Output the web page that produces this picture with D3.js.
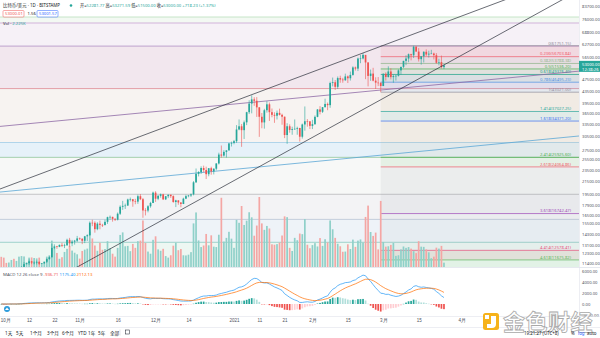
<!DOCTYPE html>
<html><head><meta charset="utf-8">
<script src="https://cdn.jsdelivr.net/npm/d3@7"></script>
<style>
body{margin:0;background:#fff}
svg{display:block;font-family:"Noto Sans","Noto Sans CJK SC",sans-serif}
.ax path{display:none}
.ax line{display:none}
</style></head>
<body><svg id="c" width="600" height="338"></svg>
<script>
// ---------------- DATA ----------------
const startDay = new Date(2020, 9, 1);   // first daily candle: 2020-10-01
const firstOpen = 10780;
const closes = [
10620,10570,10550,10670,10790,10600,10670,10920,11060,11300,
11380,11550,11430,11430,11500,11330,11370,11510,11750,11920,
12820,12970,12930,13120,13040,13070,13650,13280,13460,13560,
13800,
13760,13550,14030,14150,15590,15580,14830,15480,15330,15300,
15700,16280,16320,16070,15960,16720,17650,17780,17820,18680,
18710,18420,18370,19160,18720,17150,17140,17720,18180,19700,
18790,19220,19440,18700,19160,19380,19170,18320,18550,18250,
18040,18800,19170,19270,19440,21350,22800,23130,23860,23480,
22740,23820,23240,23730,24710,26490,26280,27040,27360,28880,
28990,
29390,32190,33000,32020,34030,36820,39370,40670,40240,38240,
35540,34010,37390,39150,36830,36070,35820,36630,36070,35550,
30830,33010,32080,32290,32370,32570,30430,33470,34320,34300,
33110,
33540,35510,37620,36940,38290,39260,38900,46200,46480,44850,
48010,47450,47200,48630,47940,49200,52150,51680,55890,55920,
57490,54210,48820,49710,47060,46340,46190,45140,
49630,48420,50540,48370,48760,48880,50970,52380,54880,55880,
57800,57330,61240,59000,55620,56880,58900,57650,58030,58100,
57350,54080,54350,52281.77,53000
];
const highs = [
10950,10670,10600,10690,10800,10800,10690,10950,11110,11480,
11420,11720,11560,11550,11620,11540,11400,11520,11820,12020,
13220,13180,13020,13160,13330,13250,13770,13860,13640,13640,
14070,
13900,13820,14070,14250,15750,15960,15760,15650,15850,15460,
15970,16340,16490,16330,16140,16880,17850,18480,18090,18800,
18960,18750,18770,19400,19480,18900,17460,17870,18340,19860,
19920,19330,19560,19530,19170,19420,19400,19290,18640,18570,
18280,18940,19390,19350,19570,21540,23770,23280,24170,24300,
24110,23840,24100,23790,24790,26870,28420,27400,27400,28990,
29300,
29680,33300,34800,33600,34500,36940,40400,41950,41350,41400,
38300,36600,37800,40100,39700,37900,36800,37300,37850,36400,
35600,33800,33500,32900,34800,32900,32600,33700,38500,34900,
34300,
34700,35900,37700,38600,38300,40900,39700,46700,48200,47300,
48600,48900,48100,49700,49000,50500,52600,52500,56300,57500,
58300,57500,54300,51300,52000,48300,48400,46600,
49800,50200,52600,51800,49400,49200,51400,52400,54900,57300,
58100,58000,61751,61600,60600,56900,59100,60000,59400,59800,
58500,58300,55800,57200,53271.59
];
const lows = [
10530,10380,10500,10520,10620,10530,10540,10540,10830,11060,
11270,11230,11300,11280,11270,11220,11300,11350,11400,11690,
11900,12700,12730,12890,12900,12800,13070,12950,12990,13150,
13420,
13630,13200,13300,13530,14090,15180,14430,14710,14820,15080,
15290,15450,15950,15720,15800,15870,16560,17230,17350,17770,
18390,17650,18000,18050,18590,16200,16500,16900,17520,18160,
18330,18580,18940,18600,18600,18880,18900,18210,17610,17930,
17580,18020,18730,19000,19050,19290,21230,22350,22780,23080,
21900,22370,22650,22700,23440,24520,25860,26070,25880,27340,
28200,
28690,29000,32000,28130,29900,33300,36300,36500,38700,35500,
30400,32500,32400,36700,34400,35400,33900,34800,35900,33400,
30100,28800,31400,30900,32100,30900,29300,30000,31900,32900,
32300,
32300,33400,35400,36200,36600,38200,37400,38100,45000,43800,
44100,46300,46300,47000,46200,47100,48900,50900,50700,53900,
55500,47600,45000,47000,46800,44100,45100,43021,
45100,47100,48200,47500,46300,47100,48600,49300,51900,53100,
54300,55100,56100,58900,54600,53300,54200,57000,56300,57900,
55500,53700,53000,51700,51500
];
const volumes = [
5200,4800,2100,2300,3600,4200,3100,5300,5600,5400,
2300,4800,4900,4600,4400,4800,1800,2200,5300,6000,
13500,9800,7200,4200,5000,7700,9300,10800,8400,7300,
6500,
4300,8200,8900,9400,18100,14600,11000,8300,12400,8800,
9200,13200,9600,6800,5300,9800,16400,17700,10600,10800,
8100,11800,9800,13200,13500,23800,12300,7900,6800,13900,
15700,9000,8300,9300,5600,4800,6000,10900,12400,8600,
9200,6000,5900,6300,7600,22300,27900,13600,10200,11000,
16900,11100,16200,10400,10200,16500,35400,13000,14900,18000,
14500,
9800,24100,22600,31200,21500,23700,28000,25400,16000,21200,
35800,22300,19000,21000,19700,11600,11400,11700,12500,16100,
25900,25500,9800,8200,14900,13700,17100,16800,24500,11400,
9600,
11200,12200,10500,14800,10800,14200,12600,23800,19300,14900,
11900,10600,7800,7900,11600,9200,14000,10300,13500,14100,
12500,25600,31400,17900,15900,17600,9000,33800,
12800,10400,10600,11300,12300,5700,6000,9000,10500,9800,
10200,9400,8100,7100,13200,10400,10300,9000,7500,4500,
5300,9900,9400,10800,2225
];
const priceTicks = [83700,76000,68800,62700,56500,47500,43500,39500,36500,33500,30500,27500,25500,23500,21500,19500,17900,16500,15500,14300,13100,12300,11400];
const macdTicks = [6000,4000,2000,0,-2000];
const timeTickDates = ["2020-10-01","2020-10-12","2020-10-22","2020-11-01","2020-11-16","2020-12-01","2020-12-14","2021-01-01","2021-01-11","2021-01-21","2021-02-01","2021-02-15","2021-03-01","2021-03-15","2021-04-01"];
const timeTickLabels = ["10月","12","22","11月","16","12月","14","2021","11","21","2月","15","3月","15","4月"];
// Fibonacci (right side, anchored at 2021-02-28)
const fibStart = "2021-02-28";
const fibRatios = [0,0.236,0.382,0.5,0.618,0.786,1,1.414,1.618,2.414,2.618,3.618,4.414,4.618];
const fibPrices = [61751.15,56703.84,53788.38,51536.20,49376.40,46495.23,43021.00,37027.25,34371.20,25925.60,24064.86,16742.47,12578.41,11675.82];
const fibColors = ["#8f8c99","#f05a6a","#8fb58a","#4caf50","#16a085","#4a90e2","#8f8c99","#2aa79b","#3d6ef0","#4caf50","#f05a6a","#a04ab8","#e84b7a","#5cb85c"];
const fibFills  = ["#f05a6a","#a08a90","#8fb58a","#4caf50","#16a085","#4a90e2","#c9a27a","#2aa79b","#b9a27a","#4caf50","#8a8f9c","#a9aebb","#e84b7a"];
// Full-width background levels
const bandPrices = [77190,73680,61560,44250,29090,25920,19450,16000,13390,10900];
const bandLineColors = ["#b9dfbb","#c9a3d3","#b08fc4","#e08a95","#9fcbe6","#8fc79a","#b7b7bb","#b7c3d3","#86c9bf","#ffffff"];
const bandFills = ["#f3f9f3","#f6f1f7","#f2e7ee","#f7f3f1","#e6f1f9","#f7f8f7","#f3f3f5","#eef3f8","#edf7f2"];
// Drawn trend lines: two anchors each [date, price]
const upperChannel = [["2020-10-01",20340],["2021-03-01",61900]];
const lowerChannel = [["2020-12-01",15460],["2021-03-01",41000]];
const purpleLine   = [["2020-10-01",33000],["2021-03-01",43820]];
const blueLine     = [["2020-10-01",19810],["2021-03-01",26410]];
const macdValues = ["-936.71","1175.40","2112.13"];
const rangeButtons = ["1天","5天","1个月","3个月","6个月","YTD","1年","5年","全部"];

// ---------------- LAYOUT ----------------
const svg = d3.select("#c");
const PW = 579, MAIN_B = 267, MACD_T = 268, MACD_B = 316, AX_B = 327;
const parse = d3.timeParse("%Y-%m-%d");
const dates = closes.map((_, i) => d3.timeDay.offset(startDay, i));
const opens = closes.map((c, i) => i === 0 ? firstOpen : closes[i - 1]);
const up = closes.map((c, i) => c >= opens[i]);

const x = d3.scaleTime().domain([new Date(2020, 8, 30, 12), new Date(2021, 4, 17, 9)]).range([0, PW]);
const y = d3.scaleLog().domain([88100, 11050]).range([0, MAIN_B]);
const yV = d3.scaleLinear().domain([0, d3.max(volumes)]).range([MAIN_B, MAIN_B - 70]);
const yM = d3.scaleLinear().domain([-2000, 4000]).range([315, 282]);

const defs = svg.append("defs");
defs.append("clipPath").attr("id", "cm").append("rect").attr("x", 0).attr("y", 0).attr("width", PW).attr("height", MAIN_B);
defs.append("clipPath").attr("id", "cd").append("rect").attr("x", 0).attr("y", MACD_T).attr("width", PW).attr("height", MACD_B - MACD_T);

svg.append("rect").attr("width", 600).attr("height", 338).attr("fill", "#ffffff");
const main = svg.append("g").attr("clip-path", "url(#cm)");

// full-width bands
for (let i = 0; i < bandFills.length; i++) {
  main.append("rect").attr("x", 0).attr("width", PW)
    .attr("y", y(bandPrices[i])).attr("height", y(bandPrices[i + 1]) - y(bandPrices[i]))
    .attr("fill", bandFills[i]);
}
bandPrices.slice(0, 9).forEach((p, i) => {
  main.append("line").attr("x1", 0).attr("x2", PW).attr("y1", y(p)).attr("y2", y(p))
    .attr("stroke", bandLineColors[i]).attr("stroke-width", 0.8);
});

// right Fibonacci
const fx = x(parse(fibStart));
for (let i = 0; i < fibPrices.length - 1; i++) {
  main.append("rect").attr("x", fx).attr("width", PW - fx)
    .attr("y", y(fibPrices[i])).attr("height", y(fibPrices[i + 1]) - y(fibPrices[i]))
    .attr("fill", fibFills[i]).attr("fill-opacity", 0.1);
}
main.append("rect").attr("x", fx).attr("width", PW - fx).attr("y", y(fibPrices[12])).attr("height", MAIN_B - y(fibPrices[12])).attr("fill", "#5cb85c").attr("fill-opacity", 0.07);
fibPrices.forEach((p, i) => {
  main.append("line").attr("x1", fx).attr("x2", PW).attr("y1", y(p)).attr("y2", y(p))
    .attr("stroke", fibColors[i]).attr("stroke-width", 0.7);
  main.append("text").attr("x", 571).attr("y", y(p) - 1.2).attr("text-anchor", "end")
    .attr("font-size", 4.2).attr("fill", fibColors[i])
    .text(`${fibRatios[i]}(${p.toFixed(2)})`);
});

// volume
main.selectAll(".vol").data(volumes).join("rect")
  .attr("x", (d, i) => x(dates[i]) - 0.85).attr("width", 1.7)
  .attr("y", d => yV(d)).attr("height", d => MAIN_B - yV(d))
  .attr("fill", (d, i) => up[i] ? "#8fd0c9" : "#f4a6a4");

// trend lines (extended across the pane in screen space)
function drawLine(anchors, color, w) {
  const p1 = [x(parse(anchors[0][0])), y(anchors[0][1])];
  const p2 = [x(parse(anchors[1][0])), y(anchors[1][1])];
  const m = (p2[1] - p1[1]) / (p2[0] - p1[0]);
  const xa = -20, xb = PW + 20;
  main.append("line").attr("x1", xa).attr("y1", p1[1] + m * (xa - p1[0]))
    .attr("x2", xb).attr("y2", p1[1] + m * (xb - p1[0]))
    .attr("stroke", color).attr("stroke-width", w);
}
drawLine(purpleLine, "#8e6aa6", 0.8);
drawLine(blueLine, "#5aa7d6", 0.8);

// candles
const cg = main.append("g");
dates.forEach((d, i) => {
  const cx = x(d), col = up[i] ? "#26a69a" : "#ef5350";
  cg.append("line").attr("x1", cx).attr("x2", cx).attr("y1", y(highs[i])).attr("y2", y(lows[i]))
    .attr("stroke", col).attr("stroke-width", 0.6);
  const yt = y(Math.max(opens[i], closes[i])), yb = y(Math.min(opens[i], closes[i]));
  cg.append("rect").attr("x", cx - 0.85).attr("width", 1.7).attr("y", yt).attr("height", Math.max(0.6, yb - yt)).attr("fill", col);
});
drawLine(upperChannel, "#2a2e39", 0.7);
drawLine(lowerChannel, "#2a2e39", 0.7);

// price axis
svg.append("line").attr("x1", PW + 0.5).attr("x2", PW + 0.5).attr("y1", 0).attr("y2", AX_B).attr("stroke", "#e0e3eb").attr("stroke-width", 0.6);
const pa = svg.append("g").attr("class", "ax").attr("transform", `translate(${PW},0)`)
  .call(d3.axisRight(y).tickValues(priceTicks).tickFormat(d => d.toFixed(2)).tickSize(0).tickPadding(3));
pa.selectAll("text").attr("font-size", 4.2).attr("fill", "#50535e").attr("font-family", "Noto Sans");
// current price box
const cy = y(closes[closes.length - 1]);
svg.append("rect").attr("x", PW).attr("y", cy - 4.5).attr("width", 600 - PW).attr("height", 11).attr("fill", "#26a69a");
svg.append("text").attr("x", PW + 3).attr("y", cy + 0.8).attr("font-size", 4.2).attr("fill", "#fff").text(closes[closes.length - 1].toFixed(2));
svg.append("text").attr("x", PW + 3).attr("y", cy + 5.4).attr("font-size", 4.2).attr("fill", "#fff").text("12:38:26");

// MACD pane
svg.append("line").attr("x1", 0).attr("x2", 600).attr("y1", MAIN_B + 0.5).attr("y2", MAIN_B + 0.5).attr("stroke", "#e0e3eb").attr("stroke-width", 0.8);
function ema(arr, n) { const k = 2 / (n + 1); let e = arr[0]; return arr.map((v, i) => i === 0 ? e : (e = v * k + e * (1 - k))); }
const e12 = ema(closes, 12), e26 = ema(closes, 26);
const macd = e12.map((v, i) => v - e26[i]);
const signal = ema(macd, 9);
const hist = macd.map((v, i) => v - signal[i]);
const mg = svg.append("g").attr("clip-path", "url(#cd)");
hist.forEach((h, i) => {
  const prev = i > 0 ? hist[i - 1] : 0;
  const col = h >= 0 ? (h >= prev ? "#26a69a" : "#b2dfdb") : (h >= prev ? "#ffcdd2" : "#ef5350");
  const y0 = yM(0), y1 = yM(h);
  mg.append("rect").attr("x", x(dates[i]) - 0.85).attr("width", 1.7)
    .attr("y", Math.min(y0, y1)).attr("height", Math.max(0.4, Math.abs(y1 - y0))).attr("fill", col);
});
const ln = d3.line().x((d, i) => x(dates[i])).y(d => yM(d));
mg.append("path").attr("d", ln(macd)).attr("fill", "none").attr("stroke", "#2196f3").attr("stroke-width", 0.7);
mg.append("path").attr("d", ln(signal)).attr("fill", "none").attr("stroke", "#ff6d00").attr("stroke-width", 0.7);
const ma = svg.append("g").attr("class", "ax").attr("transform", `translate(${PW},0)`)
  .call(d3.axisRight(yM).tickValues(macdTicks).tickFormat(d => d.toFixed(2)).tickSize(0).tickPadding(3));
ma.selectAll("text").attr("font-size", 4.2).attr("fill", "#50535e").attr("font-family", "Noto Sans");
const mh = svg.append("text").attr("x", 3).attr("y", 276).attr("font-size", 4.3).attr("fill", "#50535e");
mh.append("tspan").text("MACD 12 26 close 9  ");
mh.append("tspan").attr("fill", "#ef5350").text(macdValues[0] + "  ");
mh.append("tspan").attr("fill", "#2196f3").text(macdValues[1] + "  ");
mh.append("tspan").attr("fill", "#ff6d00").text(macdValues[2]);
// small logo
svg.append("circle").attr("cx", 7).attr("cy", 309).attr("r", 3).attr("fill", "#2d9cdb");
svg.append("path").attr("d", "M5,310 L7,307.5 L9,310 Z").attr("fill", "#fff");

// time axis
svg.append("line").attr("x1", 0).attr("x2", 600).attr("y1", MACD_B + 0.5).attr("y2", MACD_B + 0.5).attr("stroke", "#e0e3eb").attr("stroke-width", 0.6);
const ta = svg.append("g").attr("class", "ax").attr("transform", `translate(0,${MACD_B})`)
  .call(d3.axisBottom(x).tickValues(timeTickDates.map(parse)).tickFormat((d, i) => timeTickLabels[i]).tickSize(0).tickPadding(2.5));
ta.selectAll("text").attr("font-size", 4.5).attr("fill", "#50535e");
ta.selectAll("text").filter((d, i) => i === 0).attr("text-anchor", "start").attr("dx", -1);
svg.append("line").attr("x1", 0).attr("x2", 600).attr("y1", AX_B + 0.5).attr("y2", AX_B + 0.5).attr("stroke", "#e0e3eb").attr("stroke-width", 0.6);

// watermark (drawn beneath the status texts)
const wm = svg.append("g");
wm.append("rect").attr("x", 483).attr("y", 313).attr("width", 16).attr("height", 17).attr("rx", 2.5).attr("fill", "#f6b21a");
wm.append("path").attr("d", "M491,316 h5 v8 a4,4 0 0 1 -4,4 h-5 v-4 h4 z").attr("fill", "#fff");
wm.append("rect").attr("x", 485).attr("y", 315).attr("width", 4).attr("height", 4).attr("fill", "#fff");
wm.append("text").attr("x", 503).attr("y", 330).attr("font-size", 22).attr("font-weight", "bold")
  .attr("font-family", "Noto Sans CJK SC").attr("fill", "#ffffff").attr("fill-opacity", 0.75)
  .attr("stroke", "#a9a9a9").attr("stroke-width", 0.8).attr("letter-spacing", 0.5).text("金色财经");

// bottom toolbar
const btnX = [5, 16, 30, 47, 62, 78, 88, 98, 110];
rangeButtons.forEach((t, i) => svg.append("text").attr("x", btnX[i]).attr("y", 334.5).attr("font-size", 4.6).attr("fill", "#131722").text(t));
svg.append("line").attr("x1", 120).attr("x2", 120).attr("y1", 329.5).attr("y2", 335.5).attr("stroke", "#c8cad0").attr("stroke-width", 0.5);
svg.append("rect").attr("x", 125.5).attr("y", 330).attr("width", 4).attr("height", 4).attr("fill", "none").attr("stroke", "#131722").attr("stroke-width", 0.5);
svg.append("text").attr("x", 524).attr("y", 335).attr("font-size", 4.4).attr("fill", "#131722").text("19:21:27 (UTC+8)");
svg.append("text").attr("x", 571).attr("y", 335).attr("font-size", 4.4).attr("fill", "#131722").text("%");
svg.append("text").attr("x", 578).attr("y", 335).attr("font-size", 4.4).attr("fill", "#2962ff").text("log");
svg.append("text").attr("x", 587).attr("y", 335).attr("font-size", 4.4).attr("fill", "#131722").text("auto");

// header
const h1 = svg.append("text").attr("x", 3).attr("y", 7).attr("font-size", 4.4).attr("fill", "#131722");
h1.text("比特币/美元 · 1D · BITSTAMP");
svg.append("circle").attr("cx", 71).attr("cy", 5.5).attr("r", 1.3).attr("fill", "#26a69a");
const o = svg.append("text").attr("x", 80).attr("y", 7).attr("font-size", 4.2).attr("fill", "#131722");
const last = closes.length - 1;
const chg = closes[last] - opens[last];
[["开", opens[last]], ["高", highs[last]], ["低", lows[last]], ["收", closes[last]]].forEach(([k, v]) => {
  o.append("tspan").text(k + "=");
  o.append("tspan").attr("fill", "#26a69a").text(v.toFixed(2) + " ");
});
o.append("tspan").attr("fill", "#26a69a").text("+" + chg.toFixed(2) + " (+" + (chg / opens[last] * 100).toFixed(2) + "%)");
svg.append("rect").attr("x", 3).attr("y", 10.5).attr("width", 21).attr("height", 6.5).attr("fill", "#fff").attr("stroke", "#ef5350").attr("stroke-width", 0.5).attr("rx", 1);
svg.append("text").attr("x", 5).attr("y", 15.3).attr("font-size", 4.2).attr("fill", "#ef5350").text("53000.01");
svg.append("text").attr("x", 27.5).attr("y", 15.3).attr("font-size", 4.2).attr("fill", "#131722").text("1.56");
svg.append("rect").attr("x", 37).attr("y", 10.5).attr("width", 21).attr("height", 6.5).attr("fill", "#fff").attr("stroke", "#2962ff").attr("stroke-width", 0.5).attr("rx", 1);
svg.append("text").attr("x", 39).attr("y", 15.3).attr("font-size", 4.2).attr("fill", "#2962ff").text("53001.57");
const hv = svg.append("text").attr("x", 3).attr("y", 24.5).attr("font-size", 4.2).attr("fill", "#131722");
hv.append("tspan").text("Vol · ");
hv.append("tspan").attr("fill", "#26a69a").text("2.225K");
</script></body></html>
